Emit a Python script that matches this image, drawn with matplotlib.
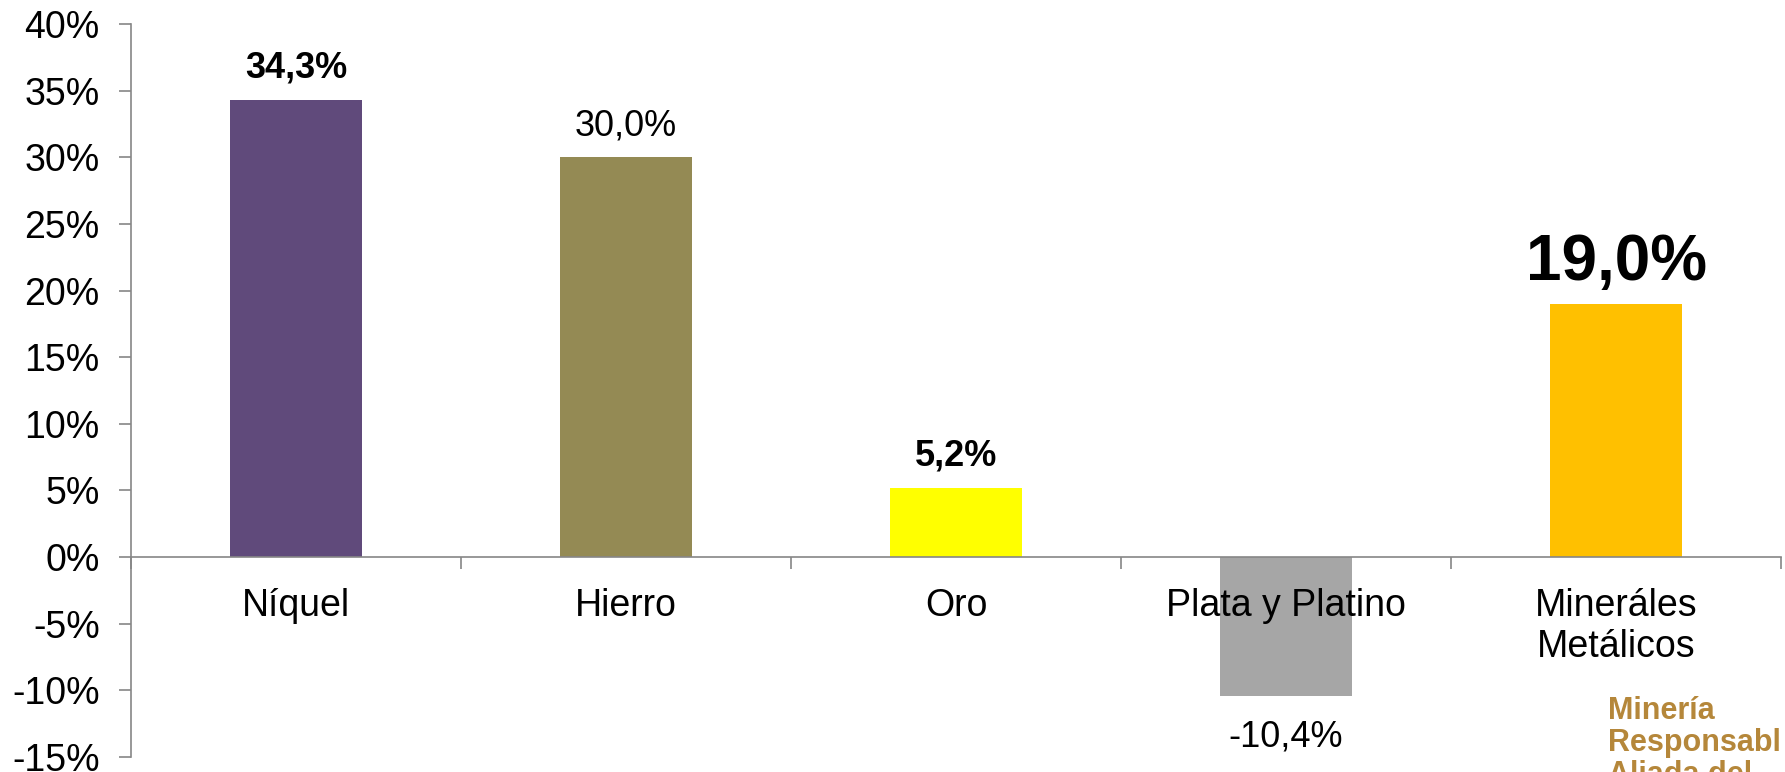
import numpy as np
import matplotlib.pyplot as plt

plt.rcParams['font.family'] = ['Liberation Sans', 'DejaVu Sans']
plt.rcParams['axes.unicode_minus'] = False

# data
categories = ['Níquel', 'Hierro', 'Oro', 'Plata y Platino', 'Minerales\nMetálicos']
categories[4] = 'Minerales\nMetálicos'.replace('Minerales', 'Minerales'.replace('ales', 'áles'))
values = [34.3, 30.0, 5.2, -10.4, 19.0]
labels = ['34,3%', '30,0%', '5,2%', '-10,4%', '19,0%']
colors = ['#604A7B', '#948A54', '#FFFF00', '#A6A6A6', '#FFC000']
label_bold = [True, False, True, False, True]
label_size = [26, 26, 26, 26, 46]

fig = plt.figure(figsize=(17.85, 7.72), dpi=100)
ax = fig.add_axes([0.0734, 0.0194, 0.9244, 0.9495])

x = np.arange(len(categories))
# bars drawn under the tick labels
ax.bar(x, values, width=0.4, color=colors, zorder=1)

# data labels
for xi, v, lab, b, s in zip(x, values, labels, label_bold, label_size):
    if v >= 0:
        off = 17 if s > 30 else 16
        ax.annotate(lab, (xi, v), xytext=(0, off), textcoords='offset points',
                    ha='center', va='baseline', fontsize=s,
                    fontweight='bold' if b else 'normal')
    else:
        ax.annotate(lab, (xi, v), xytext=(0, -17), textcoords='offset points',
                    ha='center', va='top', fontsize=s,
                    fontweight='bold' if b else 'normal')

ax.set_xlim(-0.5, len(categories) - 0.5)
ax.set_ylim(-15, 40)
ax.set_yticks(np.arange(-15, 41, 5))
ax.set_yticklabels(['%d%%' % t for t in np.arange(-15, 41, 5)])

ax.set_xticks(x)
ax.set_xticklabels(categories)
ax.set_xticks(np.arange(-0.5, len(categories), 1), minor=True)

spine_col = '#868686'
for s in ['top', 'right']:
    ax.spines[s].set_visible(False)
ax.spines['bottom'].set_position(('data', 0))
ax.spines['bottom'].set_color(spine_col)
ax.spines['left'].set_color(spine_col)
ax.spines['bottom'].set_linewidth(1.2)
ax.spines['left'].set_linewidth(1.2)

ax.tick_params(axis='y', which='major', length=8.5, width=1.2, color=spine_col,
               labelsize=27, pad=14)
ax.tick_params(axis='x', which='major', length=0, labelsize=27, pad=22)
ax.tick_params(axis='x', which='minor', length=8.5, width=1.2, color=spine_col,
               direction='out')

# logo text (cut off at the figure edge)
fig.text(1608 / 1785, 1 - 696 / 772, 'Minería\nResponsabl\nAliada del',
         fontsize=22, fontweight='bold', color='#B5873A', ha='left', va='top',
         linespacing=1.08)

fig.savefig('out.png', dpi=100)
